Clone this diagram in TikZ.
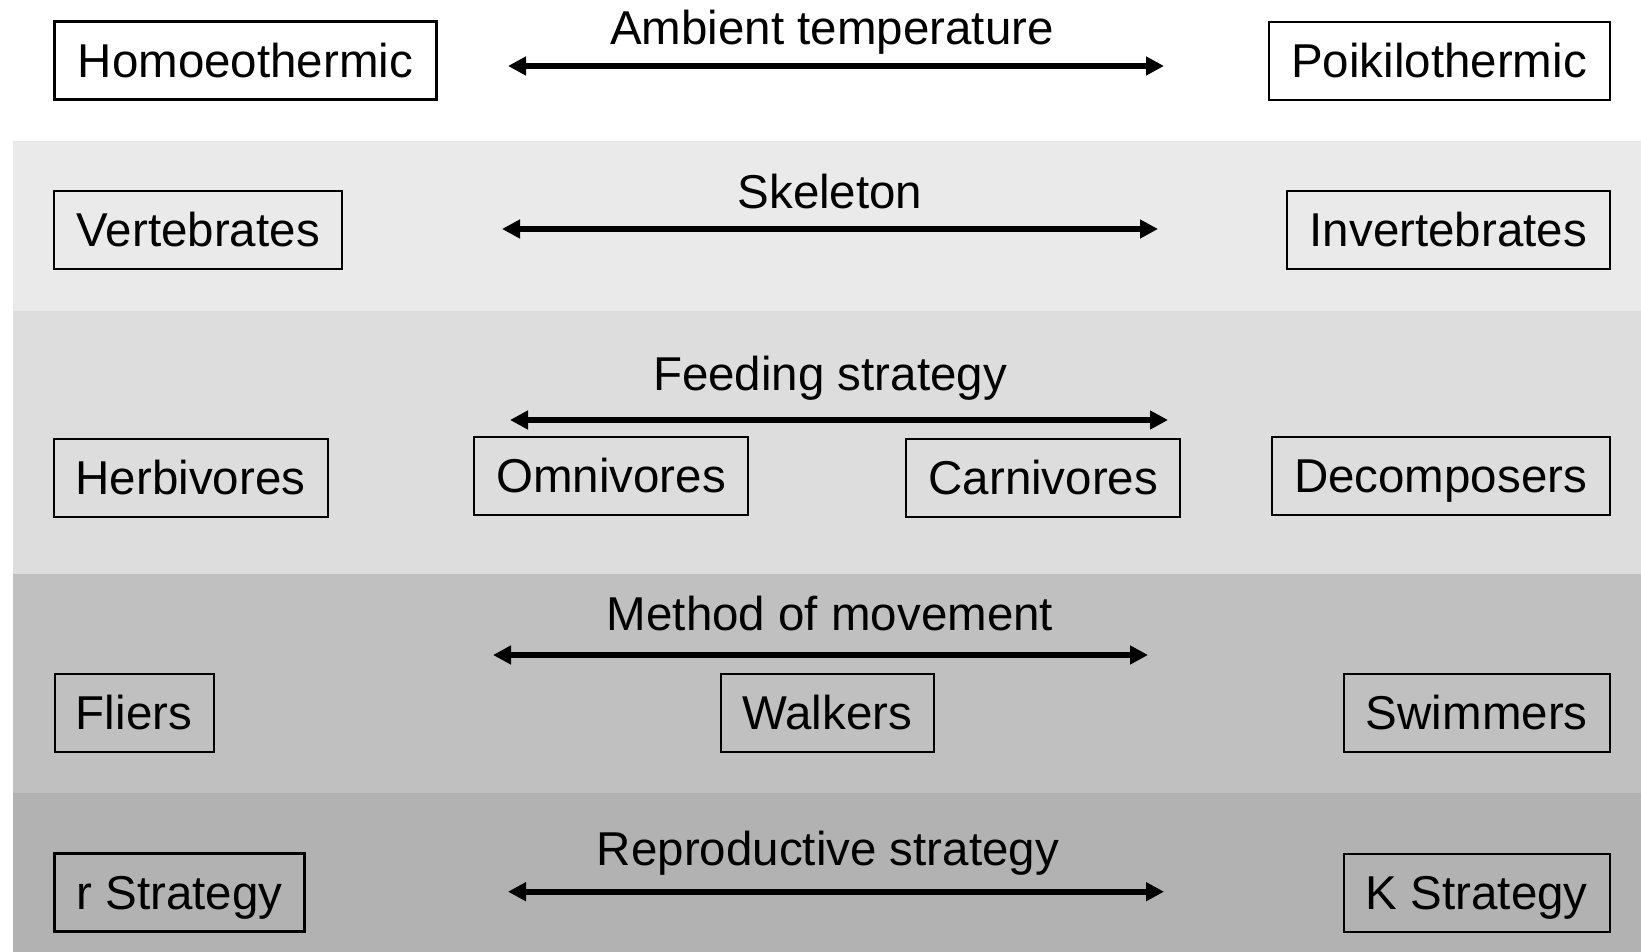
\documentclass[tikz,border=0pt]{standalone}
\usepackage{fontspec}
\setmainfont{Liberation Sans}
\usetikzlibrary{arrows.meta}
\definecolor{bandA}{HTML}{EAEAEA}
\definecolor{bandB}{HTML}{DDDDDD}
\definecolor{bandC}{HTML}{C0C0C0}
\definecolor{bandD}{HTML}{B2B2B2}
\tikzset{
  catbox/.style={draw=black, line width=2pt, inner sep=0pt, minimum height=78pt,
    font=\fontsize{47.5}{57}\selectfont, text height=34pt, text depth=0pt},
  thickbox/.style={catbox, line width=3pt},
  axislabel/.style={inner sep=0pt, font=\fontsize{47.5}{57}\selectfont, text height=34pt, text depth=0pt},
  axisarrow/.style={line width=6pt, {Triangle[length=18pt,width=18pt]}-{Triangle[length=18pt,width=18pt]}}
}
\begin{document}
\begin{tikzpicture}[x=1pt,y=-1pt]
\useasboundingbox (0,0) rectangle (1641,952);
\fill[white] (0,0) rectangle (1641,952);
% bands
\fill[bandA] (12.5,141) rectangle (1641,311);
\fill[bandB] (12.5,311) rectangle (1641,573.5);
\fill[bandC] (12.5,573.5) rectangle (1641,793);
\fill[bandD] (12.5,793) rectangle (1641,952);

% row 1
\node[thickbox, minimum width=382pt] (homo) at (245.4,61) {Homoeothermic};
\node[catbox, minimum width=341pt] (poik) at (1439,61) {Poikilothermic};
\node[axislabel] (ambient) at (832,28) {Ambient temperature};
\coordinate (a1l) at (508,66);
\coordinate (a1r) at (1164,66);
\draw[axisarrow] (a1l) -- (a1r);

% row 2
\node[catbox, minimum width=288pt] (vert) at (198.3,230) {Vertebrates};
\node[catbox, minimum width=323pt] (invert) at (1448.3,230) {Invertebrates};
\node[axislabel] (skeleton) at (830,191.5) {Skeleton};
\coordinate (a2l) at (502,229);
\coordinate (a2r) at (1158,229);
\draw[axisarrow] (a2l) -- (a2r);

% row 3
\node[axislabel] (feeding) at (830,373) {Feeding strategy};
\coordinate (a3l) at (510,420);
\coordinate (a3r) at (1168,420);
\draw[axisarrow] (a3l) -- (a3r);
\node[catbox, minimum width=274pt] (herb) at (190.5,477.7) {Herbivores};
\node[catbox, minimum width=274pt] (omni) at (611,475.7) {Omnivores};
\node[catbox, minimum width=274pt] (carn) at (1043.3,477.7) {Carnivores};
\node[catbox, minimum width=338pt] (decomp) at (1440.6,475.7) {Decomposers};

% row 4
\node[axislabel] (movement) at (830,613) {Method of movement};
\coordinate (a4l) at (493,655);
\coordinate (a4r) at (1148,655);
\draw[axisarrow] (a4l) -- (a4r);
\node[catbox, minimum width=159pt] (fliers) at (134,712.7) {Fliers};
\node[catbox, minimum width=212.6pt] (walkers) at (827.3,712.7) {Walkers};
\node[catbox, minimum width=265.7pt] (swim) at (1476.8,712.7) {Swimmers};

% row 5
\node[axislabel] (repro) at (828,848) {Reproductive strategy};
\coordinate (a5l) at (508,891.7);
\coordinate (a5r) at (1164,891.7);
\draw[axisarrow] (a5l) -- (a5r);
\node[catbox, line width=3pt, minimum width=250pt] (rstrat) at (179.5,892.7) {r Strategy};
\node[catbox, minimum width=265.7pt] (kstrat) at (1476.8,892.7) {K Strategy};
\end{tikzpicture}
\end{document}
